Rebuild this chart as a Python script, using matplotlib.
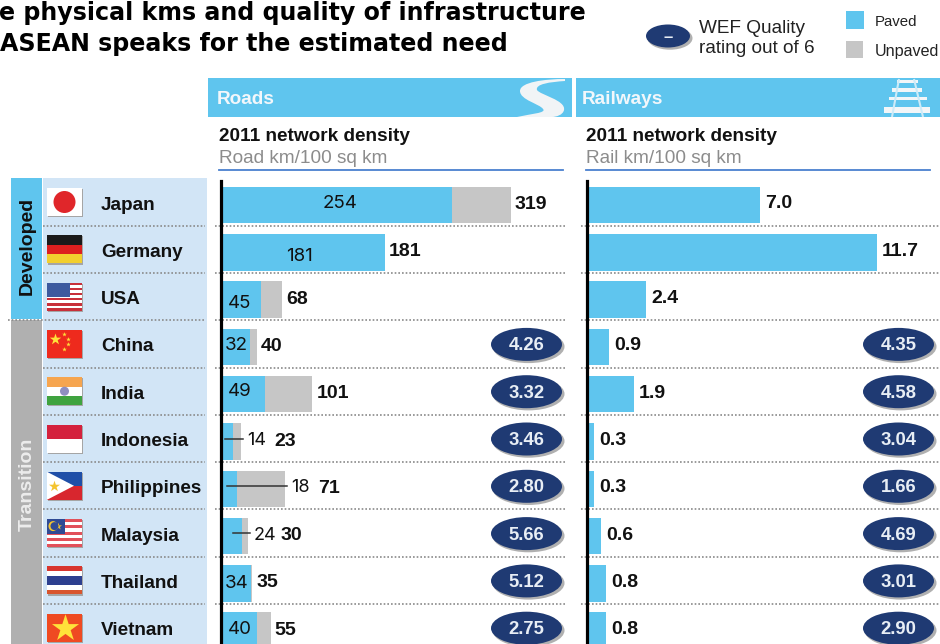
#!/usr/bin/env python3

import numpy as np
import matplotlib
matplotlib.use("Agg")
import matplotlib.pyplot as plt
from matplotlib.patches import Rectangle, Ellipse, PathPatch, Polygon
from matplotlib.path import Path

countries = ["Japan", "Germany", "USA", "China", "India", "Indonesia",
             "Philippines", "Malaysia", "Thailand", "Vietnam"]
road_paved = [254, 181, 45, 32, 49, 14, 18, 24, 34, 40]
road_total = [319, 181, 68, 40, 101, 23, 71, 30, 35, 55]
rail_density = [7.0, 11.7, 2.4, 0.9, 1.9, 0.3, 0.3, 0.6, 0.8, 0.8]
road_rating = [None, None, None, 4.26, 3.32, 3.46, 2.80, 5.66, 5.12, 2.75]
rail_rating = [None, None, None, 4.35, 4.58, 3.04, 1.66, 4.69, 3.01, 2.90]

W, H = 940, 644
BLUE = "#5fc5ee"
GREY = "#c6c6c6"
PANEL = "#d2e5f6"
NAVY = "#1f3a73"
ROW = 47.3
BAR_Y0 = 205  # pixel centre of the first bar
AXIS_TOP = 181
ROAD_SCALE = 0.91  # px per road km
RAIL_SCALE = 24.8  # px per rail km

SANS = "Liberation Sans"
HEAD = "DejaVu Sans"
LIGHT = "Inter"

fig = plt.figure(figsize=(W / 100, H / 100), dpi=100, facecolor="white")

# pixel canvas for all the furniture around the bars
bg = fig.add_axes([0, 0, 1, 1], zorder=1)
bg.set_xlim(0, W)
bg.set_ylim(H, 0)
bg.axis("off")


def rect(x0, y0, x1, y1, color, z=1):
    bg.add_patch(Rectangle((x0, y0), x1 - x0, y1 - y0, fc=color, ec="none", zorder=z))


def data_axes(left, px_per_unit):
    ax = fig.add_axes([left / W, 0, (W - left) / W, (H - AXIS_TOP) / H], zorder=2)
    ax.patch.set_visible(False)
    ax.set_xlim(0, (W - left) / px_per_unit)
    ax.set_ylim((H - BAR_Y0) / ROW, (AXIS_TOP - BAR_Y0) / ROW)
    for s in ["top", "right", "bottom"]:
        ax.spines[s].set_visible(False)
    ax.spines["left"].set_linewidth(2.3)
    ax.spines["left"].set_color("black")
    ax.set_xticks([])
    ax.set_yticks([])
    return ax


def star(x, y, size, color="#ffe23a", z=4):
    bg.scatter([x], [y], marker="*", s=size, c=color, linewidths=0, zorder=z)


FX0, FX1 = 47, 82


def stripes(y0, y1, colors, weights=None):
    weights = weights or [1] * len(colors)
    edges = y0 + np.cumsum([0] + list(weights)) / sum(weights) * (y1 - y0)
    for c, a, b in zip(colors, edges[:-1], edges[1:]):
        rect(FX0, a, FX1, b, c, 3)


def draw_flag(name, yc):
    y0, y1 = yc - 14, yc + 14
    rect(FX0 + 0.5, y0 + 1, FX1 + 0.5, y1 + 1.2, "#a5a5a5", 2)
    if name == "Japan":
        rect(FX0, y0, FX1, y1, "white", 3)
        bg.add_patch(Ellipse(((FX0 + FX1) / 2, yc), 22, 22, fc="#e0262a", ec="none", zorder=4))
    elif name == "Germany":
        stripes(y0, y1, ["#1a1a1a", "#dd1f1f", "#f2cf2e"])
    elif name == "USA":
        stripes(y0, y1, ["#c8303a", "white"] * 5 + ["#c8303a"])
        rect(FX0, y0, FX0 + 23, yc, "#3d5a9e", 4)
    elif name == "China":
        rect(FX0, y0, FX1, y1, "#ee2a1d", 3)
        star(FX0 + 8, y0 + 9, 75)
        for dx, dy in [(17, 4), (21, 9), (21, 14), (17, 19)]:
            star(FX0 + dx, y0 + dy, 12)
    elif name == "India":
        stripes(y0, y1, ["#f6a54f", "white", "#3fa33f"])
        bg.add_patch(Ellipse(((FX0 + FX1) / 2, yc), 9, 9, fc="#8f8fc0", ec="none", zorder=4))
    elif name == "Indonesia":
        stripes(y0, y1, ["#d4213d", "white"])
    elif name == "Philippines":
        stripes(y0, y1, ["#1f4fa8", "#d8262e"])
        bg.add_patch(Polygon([(FX0, y0), (FX0 + 27, yc), (FX0, y1)], fc="white", ec="none", zorder=4))
        star(FX0 + 7, yc, 70, "#f4c430", 5)
    elif name == "Malaysia":
        stripes(y0, y1, ["#e2505a", "white"] * 4 + ["#e2505a"])
        rect(FX0, y0, FX0 + 18, yc + 1, "#2f4a94", 4)
        star(FX0 + 11, yc - 7, 28, "#f4c430", 5)
        bg.add_patch(Ellipse((FX0 + 6, yc - 7), 9, 10, fc="#f4c430", ec="none", zorder=5))
        bg.add_patch(Ellipse((FX0 + 7.5, yc - 7), 8, 8, fc="#2f4a94", ec="none", zorder=5))
    elif name == "Thailand":
        stripes(y0, y1, ["#d8352e", "white", "#2d3f8f", "white", "#d8552e"], [1, 1, 2, 1, 1])
    elif name == "Vietnam":
        rect(FX0, y0, FX1, y1, "#ef4a22", 3)
        star((FX0 + FX1) / 2, yc, 420)


def rating_oval(x, y, value, w=71, h=33, size=13.3):
    bg.add_patch(Ellipse((x + 2, y + 2.2), w + 1, h, fc="#b0b0b0", ec="none", zorder=5))
    bg.add_patch(Ellipse((x, y), w, h, fc=NAVY, ec="none", zorder=6))
    bg.text(x, y + 1.5, value, ha="center", va="center", color="#e8eef5", fontsize=size,
            fontweight="bold", family=SANS, zorder=7)


# title, cut by the left edge of the canvas
bg.text(-1, 13, "e physical kms and quality of infrastructure", fontsize=17.1, fontweight="bold",
        family=HEAD, va="center", ha="left", color="black")
bg.text(0, 44, "ASEAN speaks for the estimated need", fontsize=17.1, fontweight="bold",
        family=HEAD, va="center", ha="left", color="black")

# key
rating_oval(668, 36, "–", w=44, h=23, size=12)
bg.text(699, 28, "WEF Quality", fontsize=13.7, family=SANS, va="center", color="#222222")
bg.text(699, 48, "rating out of 6", fontsize=13.7, family=SANS, va="center", color="#222222")
rect(846, 11, 864, 29, BLUE)
rect(846, 41, 863, 58, GREY)
bg.text(875, 22, "Paved", fontsize=10.8, family=SANS, va="center", color="#222222")
bg.text(875, 51, "Unpaved", fontsize=11.6, family=SANS, va="center", color="#222222")

# column headers
rect(208, 78, 572, 117, BLUE)
rect(576, 78, W, 117, BLUE)
bg.text(217, 99, "Roads", fontsize=13.7, fontweight="bold", family=SANS, color="#f2f7fb", va="center")
bg.text(582, 99, "Railways", fontsize=13.7, fontweight="bold", family=SANS, color="#f2f7fb", va="center")

road_verts = [(565, 81), (550, 82), (535, 84), (537, 90), (540, 95), (566, 100), (564, 110),
              (563, 115), (556, 117), (552, 117), (517, 117), (530, 114), (547, 113), (543, 109),
              (540, 104), (520, 100), (520, 91), (520, 82), (545, 79), (565, 79), (565, 81)]
road_codes = [Path.MOVETO] + [Path.CURVE4] * 9 + [Path.LINETO] + [Path.CURVE4] * 9 + [Path.CLOSEPOLY]
bg.add_patch(PathPatch(Path(road_verts, road_codes), fc="#f1f4f6", ec="none", zorder=3))

# railway sleepers, then the two rails across them
for y0, y1, xa, xb in [(80, 83, 897, 918), (88, 92, 892, 922), (97, 100, 889, 927), (107, 113, 884, 930)]:
    rect(xa, y0, xb, y1, "#f3f6f8", 3)
for (xa, ya, xb, yb) in [(899, 79, 892, 117), (914, 79, 923, 117)]:
    bg.plot([xa, xb], [ya, yb], color="#cdebf8", lw=1.5, zorder=4, solid_capstyle="butt")

for x, unit in [(219, "Road km/100 sq km"), (586, "Rail km/100 sq km")]:
    bg.text(x, 136, "2011 network density", fontsize=13.7, fontweight="bold", family=SANS,
            va="center", color="#111111")
    bg.text(x, 158, unit, fontsize=13.7, family=SANS, va="center", color="#8c8c8c")
    bg.plot([x, x + 344], [169.5, 169.5], color="#4a80cf", lw=1.3)

# row labels on the left
rect(11, 178, 42, 319, BLUE)
rect(11, 320, 42, H, "#b0b0b0")
rect(43, 178, 207, H, PANEL)
bg.text(27, 246, "Developed", rotation=90, fontsize=14, fontweight="bold", family=SANS,
        ha="center", va="center", color="#111111")
bg.text(27, 484, "Transition", rotation=90, fontsize=14, fontweight="bold", family=SANS,
        ha="center", va="center", color="#ececec")

for i, name in enumerate(countries):
    yc = BAR_Y0 - 3 + ROW * i
    draw_flag(name, yc)
    bg.text(101, yc + 3, name, fontsize=13.6, fontweight="bold", family=SANS, va="center", color="#111111")
    if road_rating[i] is not None:
        rating_oval(526.5, yc + 0.5, f"{road_rating[i]:.2f}")
        rating_oval(898.5, yc + 0.5, f"{rail_rating[i]:.2f}")
    if i < len(countries) - 1:
        y = BAR_Y0 - 3 + ROW * (i + 0.5)
        start = 8 if i == 2 else 43
        for xa, xb in [(start, 205), (215, 567), (581, W)]:
            bg.plot([xa, xb], [y, y], color="#8a8a8a", lw=1.2, ls=(0, (1, 1.2)), zorder=4)

# road bars
y = np.arange(len(countries))
road_ax = data_axes(220.5, ROAD_SCALE)
road_ax.barh(y, road_total, height=0.77, color=GREY)
road_ax.barh(y, road_paved, height=0.77, color=BLUE)

# paved segments too thin for a number get a leader, starting this many px from the axis
leaders = {"Indonesia": 4.5, "Philippines": 6.5, "Malaysia": 12.5}
# small shifts of the in-bar numbers (px right, px up)
nudges = {"Japan": (4, 1), "Germany": (-3, -4), "USA": (-1, -4), "China": (1, 1), "India": (-3, 3),
          "Thailand": (1, 0), "Vietnam": (1, 1)}
for i, name in enumerate(countries):
    paved, total = road_paved[i], road_total[i]
    label = dict(va="center", color="#111111", textcoords="offset pixels")
    if name in leaders:
        x0 = leaders[name] / ROAD_SCALE
        x1 = total + 2 / ROAD_SCALE
        yl = i - 3 / ROW
        road_ax.plot([x0, x1], [yl, yl], color="#333333", lw=1.1, zorder=5)
        road_ax.annotate(str(paved), (total, i), xytext=(6, 1), fontsize=13, family=LIGHT, **label)
        road_ax.annotate(str(total), (total, i), xytext=(33, 0.5), fontsize=14, fontweight="bold",
                         family=SANS, **label)
    else:
        dx, dy = nudges.get(name, (0, 0))
        road_ax.annotate(str(paved), (paved / 2, i), xytext=(dx, dy), fontsize=13.5, family=LIGHT,
                         ha="center", **label)
        road_ax.annotate(str(total), (total, i), xytext=(4, 0.5), fontsize=14, fontweight="bold",
                         family=SANS, **label)

# railway bars
rail_ax = data_axes(586.5, RAIL_SCALE)
rail_ax.barh(y, rail_density, height=0.77, color=BLUE)
for i, v in enumerate(rail_density):
    rail_ax.annotate(f"{v:.1f}", (v, i), xytext=(5, 1), textcoords="offset pixels",
                     fontsize=14, fontweight="bold", family=SANS, va="center", color="#111111")

fig.savefig("out.png", dpi=100)
